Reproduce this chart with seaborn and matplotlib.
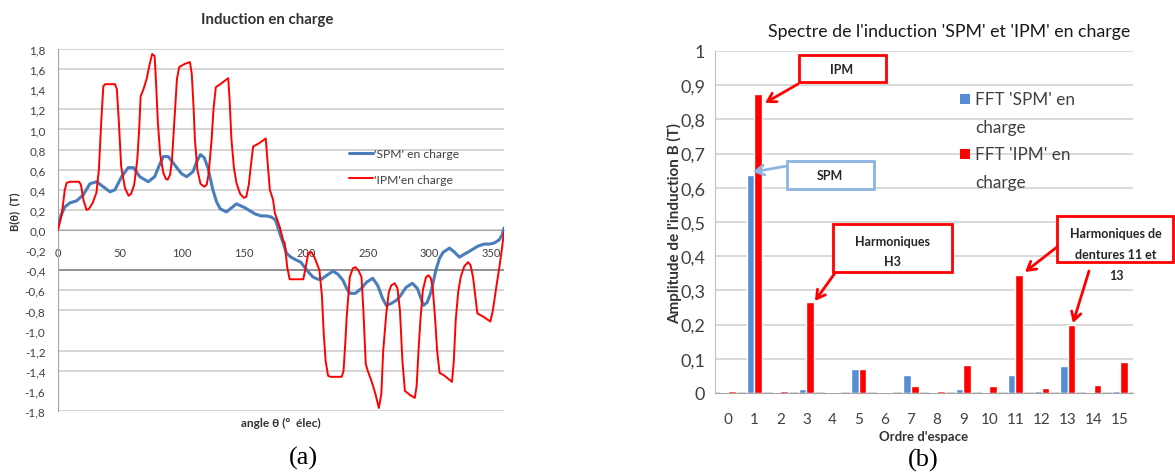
import numpy as np
import pandas as pd
import matplotlib
matplotlib.use("Agg")
import matplotlib.pyplot as plt
from matplotlib.patches import Rectangle
import seaborn as sns

# ---------------- panel (a) data ----------------
series_a = ["'SPM' en charge", "'IPM'en charge"]
spm_angle = [0, 2.5, 5.6, 9.7, 15, 20.4, 25.8, 31.2, 36.5, 42, 46, 51.3, 56.7, 61, 66, 72.8, 78, 82, 85, 89,
             94, 99.7, 103.8, 109, 112, 115, 118, 121, 125, 128, 131, 136, 140, 144, 151, 159, 164, 168, 172,
             175.5, 179, 182, 184.4, 188, 192.5, 196, 199, 203, 206, 210, 212.6, 217, 222, 226, 230, 233,
             235.5, 240, 245, 249, 254, 258, 262, 265, 269, 273, 276, 281, 286, 290, 293, 295, 298, 301, 305,
             308, 311, 316, 320, 324, 328, 331, 339, 344, 348, 352, 356, 358.5, 360]
spm_b = [0.05, 0.15, 0.23, 0.27, 0.29, 0.35, 0.46, 0.48, 0.43, 0.38, 0.40, 0.53, 0.62, 0.62, 0.53, 0.48, 0.53,
         0.65, 0.73, 0.73, 0.65, 0.56, 0.53, 0.58, 0.68, 0.75, 0.72, 0.62, 0.40, 0.28, 0.21, 0.18, 0.22, 0.26,
         0.22, 0.16, 0.14, 0.14, 0.13, 0.10, -0.03, -0.14, -0.23, -0.27, -0.30, -0.32, -0.37, -0.43, -0.47,
         -0.49, -0.49, -0.45, -0.41, -0.44, -0.50, -0.58, -0.63, -0.63, -0.58, -0.52, -0.48, -0.55, -0.68,
         -0.75, -0.73, -0.70, -0.66, -0.57, -0.53, -0.58, -0.68, -0.75, -0.72, -0.62, -0.40, -0.28, -0.22,
         -0.18, -0.22, -0.27, -0.24, -0.22, -0.16, -0.14, -0.14, -0.13, -0.10, -0.05, 0.02]
ipm_angle = [0, 3, 5.5, 7, 10, 17, 18.5, 20.5, 23, 25, 28, 31, 33, 35, 36.6, 38, 46, 47.5, 49, 51, 54, 57, 59,
             61.5, 64, 65.5, 66.7, 69, 71.5, 74, 76, 78, 79, 80.6, 82.5, 85, 87, 88.5, 90.5, 92, 94, 96, 97.8,
             102, 106.5, 108, 109.5, 110.5, 112.5, 115, 118, 120, 121.5, 124, 125.5, 127.4, 131, 137.4, 138.5,
             140, 142, 144, 147, 150, 152, 154, 155.5, 157.5, 162, 167.7, 169, 171, 173.6, 175, 179, 181.7, 183,
             185, 187, 198, 199.5, 202, 204.6, 207, 211, 213, 214.5, 216, 218, 220, 229, 230.5, 232, 233, 235.5,
             238, 240, 242.5, 245, 246.5, 248.4, 250, 253, 256, 259, 261, 262.5, 265, 267, 269, 271.8, 274, 276,
             278, 280, 284, 288, 289.5, 291, 292.5, 294.5, 297, 299, 301, 302.5, 304.5, 306, 308, 312, 318,
             319.5, 321, 323, 325, 328, 331, 333, 335, 336.5, 338.5, 343, 349, 351, 354, 356.5, 358.5, 360]
ipm_b = [0.0, 0.15, 0.40, 0.47, 0.48, 0.48, 0.45, 0.30, 0.20, 0.21, 0.27, 0.37, 0.60, 1.10, 1.43, 1.45, 1.45,
         1.40, 1.10, 0.63, 0.42, 0.34, 0.36, 0.45, 0.70, 1.00, 1.33, 1.40, 1.50, 1.65, 1.75, 1.73, 1.50, 1.07,
         0.75, 0.57, 0.51, 0.50, 0.55, 0.70, 1.10, 1.50, 1.62, 1.65, 1.67, 1.55, 1.20, 0.90, 0.60, 0.46, 0.43,
         0.45, 0.55, 0.90, 1.20, 1.42, 1.45, 1.51, 1.30, 0.90, 0.62, 0.47, 0.36, 0.32, 0.33, 0.45, 0.62, 0.83,
         0.86, 0.91, 0.70, 0.40, 0.30, 0.17, 0.03, -0.10, -0.13, -0.37, -0.49, -0.49, -0.40, -0.23, -0.22,
         -0.27, -0.40, -0.65, -1.03, -1.30, -1.45, -1.46, -1.46, -1.40, -1.10, -0.87, -0.47, -0.38, -0.37,
         -0.40, -0.47, -0.80, -1.33, -1.40, -1.50, -1.62, -1.77, -1.63, -1.20, -0.83, -0.62, -0.55, -0.53,
         -0.58, -0.80, -1.30, -1.60, -1.64, -1.67, -1.55, -1.20, -0.90, -0.60, -0.47, -0.45, -0.48, -0.58,
         -0.90, -1.20, -1.42, -1.45, -1.51, -1.30, -0.90, -0.62, -0.47, -0.36, -0.32, -0.35, -0.47, -0.62,
         -0.83, -0.86, -0.91, -0.80, -0.55, -0.35, -0.17, -0.02]
yticks_a = [-1.8, -1.6, -1.4, -1.2, -1.0, -0.8, -0.6, -0.4, -0.2, 0.0, 0.2, 0.4, 0.6, 0.8, 1.0, 1.2, 1.4, 1.6, 1.8]
xticks_a = [0, 50, 100, 150, 200, 250, 300, 350]

# ---------------- panel (b) data ----------------
series_b = ["FFT 'SPM' en charge", "FFT 'IPM' en charge"]
orders = list(range(16))
fft_spm = [0.002, 0.637, 0.004, 0.013, 0.002, 0.070, 0.002, 0.054, 0.002, 0.013, 0.004, 0.053, 0.007, 0.078,
           0.004, 0.007]
fft_ipm = [0.007, 0.875, 0.007, 0.267, 0.002, 0.070, 0.004, 0.020, 0.007, 0.082, 0.020, 0.345, 0.016, 0.200,
           0.024, 0.090]
yticks_b = [0, 0.1, 0.2, 0.3, 0.4, 0.5, 0.6, 0.7, 0.8, 0.9, 1.0]

# ---------------- style ----------------
sns.set_style("white")
plt.rcParams['font.family'] = ['Lato', 'DejaVu Sans']

BLUE_L = '#4A7EBB'
BLUE_B = '#558ED5'
RED = '#FF0000'
TXT = '#404040'
GRID = '#C9C9C9'

W, H = 1175, 477
fig = plt.figure(figsize=(W / 100, H / 100), dpi=100)


def rect(x0, y0, x1, y1):
    return [x0 / W, 1 - y1 / H, (x1 - x0) / W, (y1 - y0) / H]


def P(x, y):
    return (x / W, 1 - y / H)


# ================= panel (a) =================
ax1 = fig.add_axes(rect(58, 50, 504, 412))
df_a = pd.concat([
    pd.DataFrame({'angle': spm_angle, 'B': spm_b, 'serie': series_a[0]}),
    pd.DataFrame({'angle': ipm_angle, 'B': ipm_b, 'serie': series_a[1]}),
], ignore_index=True)
sns.lineplot(data=df_a, x='angle', y='B', hue='serie', palette=[BLUE_L, RED], sort=False,
             estimator=None, legend=False, ax=ax1, zorder=3)
ax1.lines[0].set_linewidth(2.2)
ax1.lines[1].set_linewidth(1.4)

ax1.set_xlim(0, 360)
ax1.set_ylim(-1.8, 1.8)
ax1.set_yticks(yticks_a)
ax1.set_yticklabels([f"{v:.1f}".replace('.', ',') for v in yticks_a])
ax1.set_xticks(xticks_a)
ax1.set_xticklabels([str(v) for v in xticks_a])
ax1.set_xlabel('')
ax1.set_ylabel('')
ax1.spines['bottom'].set_position(('data', 0))
for s in ['top', 'right']:
    ax1.spines[s].set_visible(False)
ax1.spines['left'].set_color('#A6A6A6')
ax1.spines['bottom'].set_color('#A6A6A6')
ax1.tick_params(axis='x', length=5, width=1, color='#A6A6A6', pad=7, labelsize=8, labelcolor=TXT)
ax1.tick_params(axis='y', length=0, pad=9, labelsize=8.5, labelcolor=TXT)
ax1.grid(axis='y', color=GRID, lw=1.1)
ax1.grid(axis='x', visible=False)
for gl, v in zip(ax1.get_ygridlines(), yticks_a):
    if v in (1.4, -0.2, -1.0, -1.6):
        gl.set_visible(False)
ax1.axhline(-0.4, color='#7F7F7F', lw=1.1, zorder=1)

leg = ax1.legend(ax1.lines[:2], series_a, loc='upper left', bbox_to_anchor=P(349, 149),
                 bbox_transform=fig.transFigure, frameon=False, fontsize=8.7, handlelength=2.0,
                 handletextpad=0.1, labelspacing=1.2, borderpad=0, borderaxespad=0)
for t in leg.get_texts():
    t.set_color(TXT)

fig.text(*P(267, 20), "Induction en charge", ha='center', va='center', fontsize=10.8,
         fontweight='bold', color='#333333')
fig.text(*P(15, 212), "B(θ)  (T)", ha='center', va='center', rotation=90, fontsize=8,
         fontweight='bold', color='#333333')
fig.text(*P(281, 423), "angle θ (°  élec)", ha='center', va='center', fontsize=8.6,
         fontweight='bold', color='#333333')
fig.text(*P(303, 458), "(a)", ha='center', va='center', fontsize=19,
         family=['Liberation Serif', 'DejaVu Serif'], color='black')

# ================= panel (b) =================
ax2 = fig.add_axes(rect(715, 52, 1133, 394))
df_b = pd.DataFrame({'ordre': orders * 2, 'amp': fft_spm + fft_ipm,
                     'serie': [series_b[0]] * len(orders) + [series_b[1]] * len(orders)})
sns.barplot(data=df_b, x='ordre', y='amp', hue='serie', palette=[BLUE_B, RED], width=0.58,
            saturation=1, errorbar=None, legend=False, ax=ax2, zorder=3)
ax2.set_xlim(-0.5, 15.5)
ax2.set_ylim(0, 1)
ax2.set_yticks(yticks_b)
ax2.set_yticklabels([("0" if v == 0 else "1" if v == 1 else f"{v:.1f}".replace('.', ',')) for v in yticks_b])
ax2.set_xlabel('')
ax2.set_ylabel('')
for s in ['top', 'right']:
    ax2.spines[s].set_visible(False)
ax2.spines['left'].set_color('#BFBFBF')
ax2.spines['bottom'].set_color('#A6A6A6')
ax2.set_xticks(np.arange(-0.5, 16, 1), minor=True)
ax2.tick_params(axis='x', which='major', length=0, pad=14, labelsize=11, labelcolor=TXT)
ax2.tick_params(axis='x', which='minor', length=6, color='#A6A6A6', width=1)
ax2.tick_params(axis='y', length=4, color='#BFBFBF', pad=3, labelsize=13, labelcolor=TXT)
ax2.grid(axis='y', color='#D0D0D0', lw=1.1)
ax2.grid(axis='x', visible=False)
ax2.set_axisbelow(True)

fig.text(*P(949, 32), "Spectre de l'induction 'SPM' et 'IPM' en charge", ha='center', va='center',
         fontsize=12.8, color='#1A1A1A')
fig.text(*P(675, 223), "Amplitude de l'induction B (T)", ha='center', va='center', rotation=90,
         fontsize=11, fontweight='bold', color='#333333')
fig.text(*P(924, 437), "Ordre d'espace", ha='center', va='center', fontsize=9.5,
         fontweight='bold', color='#333333')
fig.text(*P(923, 460), "(b)", ha='center', va='center', fontsize=19,
         family=['Liberation Serif', 'DejaVu Serif'], color='black')

# legend of panel (b)
for (yy, col), lines in zip([(100, BLUE_B), (155, RED)],
                            [("FFT 'SPM' en", "charge"), ("FFT 'IPM' en", "charge")]):
    fig.add_artist(Rectangle(P(960, yy + 5), 10 / W, 10 / H, transform=fig.transFigure,
                             facecolor=col, edgecolor='none'))
    fig.text(*P(975, yy), lines[0], ha='left', va='center', fontsize=12.3, color=TXT)
    fig.text(*P(975, yy + 28), lines[1], ha='left', va='center', fontsize=12.3, color=TXT)


# annotation boxes and arrows
def box(x0, y0, x1, y1, ec):
    fig.add_artist(Rectangle(P(x0, y1), (x1 - x0) / W, (y1 - y0) / H, transform=fig.transFigure,
                             facecolor='white', edgecolor=ec, lw=2, zorder=4))


def arrow(xs, ys, xt, yt, col):
    ax2.annotate('', xy=P(xt, yt), xytext=P(xs, ys), xycoords='figure fraction',
                 textcoords='figure fraction',
                 arrowprops=dict(arrowstyle='->,head_length=0.6,head_width=0.35', color=col, lw=2,
                                 shrinkA=0, shrinkB=0), zorder=5)


LB = '#8DB4E2'
box(799, 56, 886, 83, RED)
fig.text(*P(842, 70), "IPM", ha='center', va='center', fontsize=9, fontweight='bold', zorder=6)
arrow(798, 85, 765, 104, RED)

box(787, 162, 874, 190, LB)
fig.text(*P(830, 176), "SPM", ha='center', va='center', fontsize=9, fontweight='bold', zorder=6)
arrow(787, 167, 753, 173, LB)

box(833, 225, 952, 273, RED)
fig.text(*P(892, 242), "Harmoniques", ha='center', va='center', fontsize=9, fontweight='bold', zorder=6)
fig.text(*P(892, 262), "H3", ha='center', va='center', fontsize=9, fontweight='bold', zorder=6)
arrow(835, 274, 815, 302, RED)

box(1057, 217, 1173, 263, RED)
fig.text(*P(1116, 234), "Harmoniques de", ha='center', va='center', fontsize=9, fontweight='bold', zorder=6)
fig.text(*P(1116, 255), "dentures 11 et", ha='center', va='center', fontsize=9, fontweight='bold', zorder=6)
fig.text(*P(1116, 276), "13", ha='center', va='center', fontsize=9, fontweight='bold', zorder=6)
arrow(1057, 248, 1025, 273, RED)
arrow(1089, 272, 1073, 324, RED)

fig.savefig("out.png", dpi=100, facecolor='white')
